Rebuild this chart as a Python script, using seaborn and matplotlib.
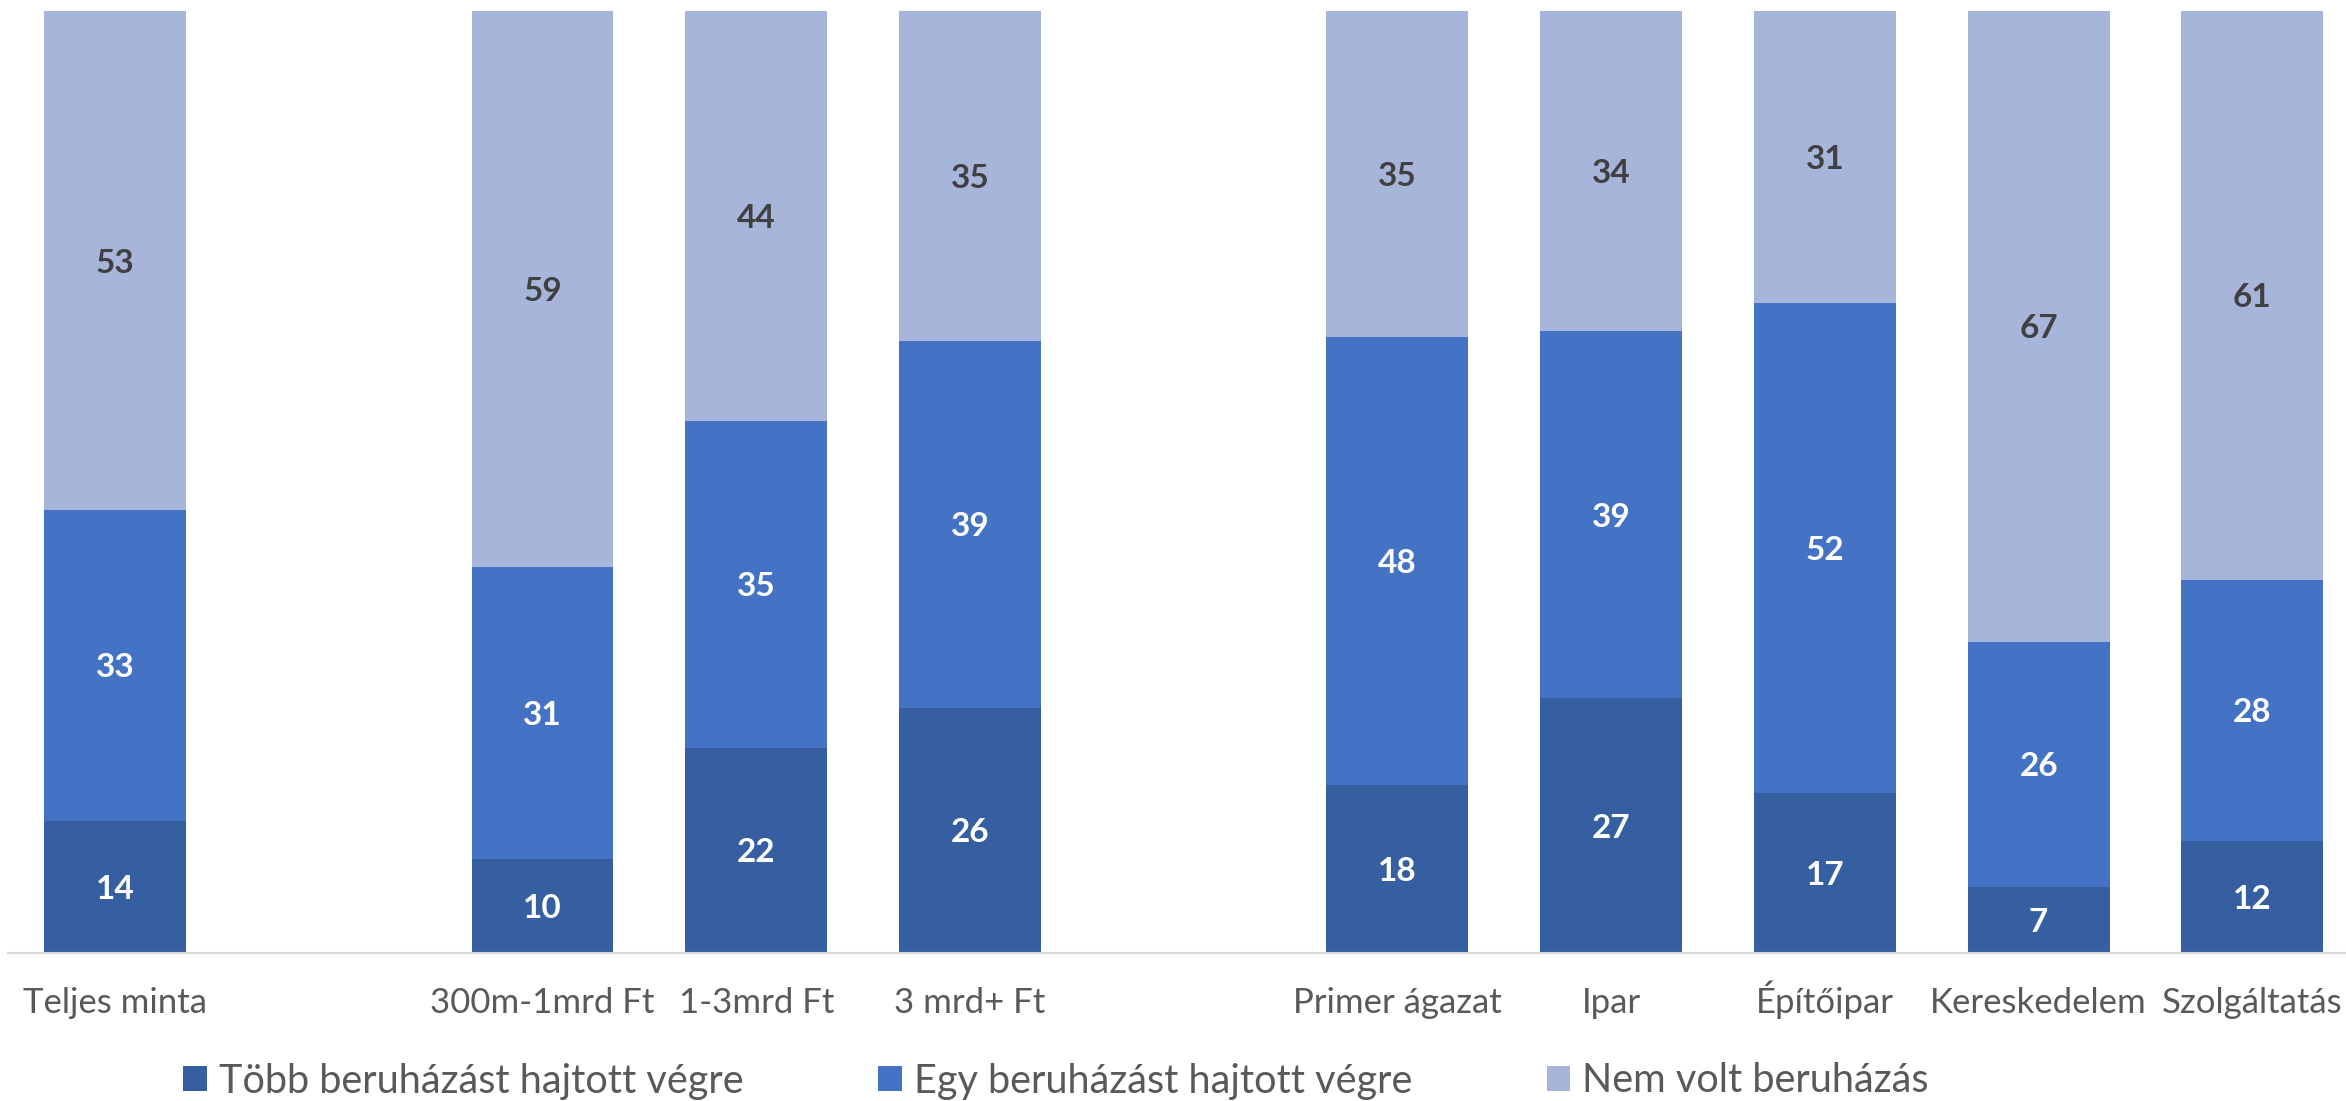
import pandas as pd
import seaborn as sns
import matplotlib.pyplot as plt
from matplotlib.patches import Patch

# data (percent of firms)
groups = ["Teljes minta", "300m-1mrd Ft", "1-3mrd Ft", "3 mrd+ Ft",
          "Primer ágazat", "Ipar", "Építőipar", "Kereskedelem", "Szolgáltatás"]
tobb = [14, 10, 22, 26, 18, 27, 17, 7, 12]
egy = [33, 31, 35, 39, 48, 39, 52, 26, 28]
nem = [53, 59, 44, 35, 35, 34, 31, 67, 61]
series_names = ["Több beruházást hajtott végre",
                "Egy beruházást hajtott végre",
                "Nem volt beruházás"]

# empty slots separate the three blocks
order = ["Teljes minta", " ", "300m-1mrd Ft", "1-3mrd Ft", "3 mrd+ Ft", "  ",
         "Primer ágazat", "Ipar", "Építőipar", "Kereskedelem", "Szolgáltatás"]

c_dark = "#365FA1"
c_mid = "#4472C4"
c_light = "#A8B5DA"

df = pd.DataFrame({"cat": groups, "tobb": tobb, "egy": egy, "nem": nem})
total = df[["tobb", "egy", "nem"]].sum(axis=1)
# 100% stacked: shares of each row
df["s1"] = df["tobb"] / total * 100
df["s2"] = df["egy"] / total * 100
df["s3"] = df["nem"] / total * 100
df["cum1"] = df["s1"]
df["cum2"] = df["s1"] + df["s2"]
df["cum3"] = df["cum2"] + df["s3"]

sns.set_theme(style="white")
plt.rcParams["font.family"] = ["Lato", "DejaVu Sans"]

fig = plt.figure(figsize=(23.46, 11.01), dpi=100)
ax = fig.add_axes([8.2 / 2346, 0.1347, 2351 / 2346, 0.8553])

for col, color in [("cum3", c_light), ("cum2", c_mid), ("cum1", c_dark)]:
    sns.barplot(data=df, x="cat", y=col, order=order, color=color,
                saturation=1, width=0.664, errorbar=None, linewidth=0, ax=ax)

# segment labels
for i, row in df.iterrows():
    xpos = order.index(row["cat"])
    ax.text(xpos, row["s1"] / 2, str(row["tobb"]), ha="center", va="center_baseline",
            color="white", fontsize=24, fontweight="bold")
    ax.text(xpos, row["cum1"] + row["s2"] / 2, str(row["egy"]), ha="center",
            va="center_baseline", color="white", fontsize=24, fontweight="bold")
    ax.text(xpos, row["cum2"] + row["s3"] / 2, str(row["nem"]), ha="center",
            va="center_baseline", color="#404040", fontsize=24, fontweight="bold")

ax.set_xlim(-0.5, len(order) - 0.5)
ax.set_ylim(0, 100)
ax.set_xlabel("")
ax.set_ylabel("")
ax.set_yticks([])
for s in ["top", "left", "right"]:
    ax.spines[s].set_visible(False)
ax.spines["bottom"].set_color("#D9D9D9")
ax.spines["bottom"].set_linewidth(1.5)
ax.tick_params(axis="x", length=0, pad=43.5, labelsize=25, labelcolor="#595959")
for lab in ax.get_xticklabels():
    lab.set_verticalalignment("baseline")

handles = [Patch(facecolor=c, edgecolor="none") for c in [c_dark, c_mid, c_light]]
fig.legend(handles, series_names, loc="center",
           bbox_to_anchor=(1056 / 2346, 1 - 1081 / 1101), ncol=3, frameon=False,
           fontsize=28.5, handlelength=0.6, handleheight=0.6,
           handletextpad=0.3, columnspacing=3.4, labelcolor="#595959")

fig.savefig("out.png", dpi=100)
